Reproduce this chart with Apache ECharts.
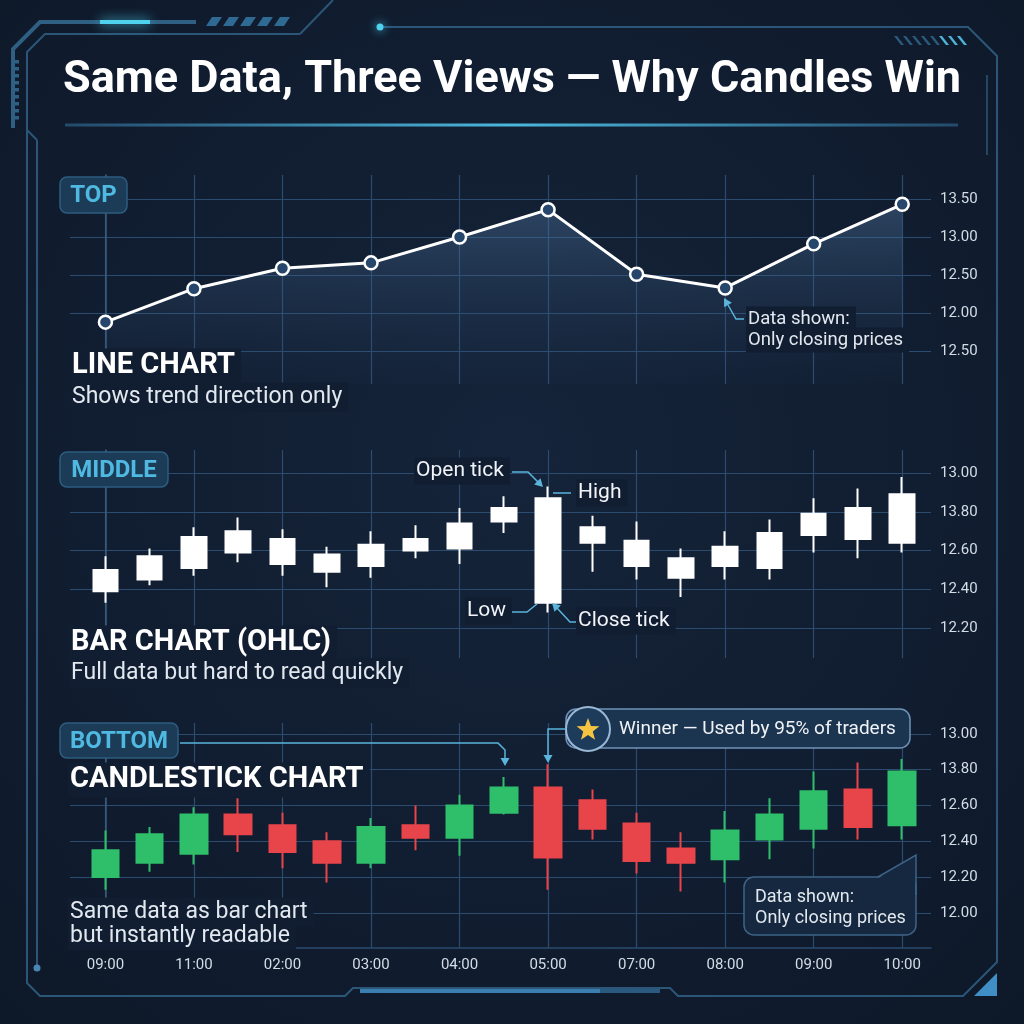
<!DOCTYPE html>
<html><head><meta charset="utf-8">
<script src="https://cdn.jsdelivr.net/npm/echarts@6/dist/echarts.min.js"></script>
<style>
html,body{margin:0;padding:0;background:#0f1a2d;}
#c{width:1024px;height:1024px;}
</style></head><body><div id="c"></div>
<script>
// ---------- DATA ----------
const timeLabels = ['09:00','11:00','02:00','03:00','04:00','05:00','07:00','08:00','09:00','10:00'];
const slotTicks = [0,2,4,6,8,10,12,14,16,18];          // candle slots that carry a time label
const lineSlots = [0,2,4,6,8,10,12,14,16,18];          // slots of the line-chart points

const topTickValues = [11.5,12.0,12.5,13.0,13.5];
const topTickLabels = ['12.50','12.00','12.50','13.00','13.50'];
const midTickValues = [12.2,12.4,12.6,12.8,13.0];
const midTickLabels = ['12.20','12.40','12.60','13.80','13.00'];
const botTickValues = [12.0,12.2,12.4,12.6,12.8,13.0];
const botTickLabels = ['12.00','12.20','12.40','12.60','13.80','13.00'];

const lineClose = [11.88,12.32,12.59,12.66,13.00,13.36,12.51,12.33,12.91,13.43];

const midOpen  = [12.39,12.45,12.51,12.70,12.66,12.58,12.52,12.66,12.61,12.75,12.87,12.72,12.65,12.56,12.52,12.51,12.68,12.82,12.64];
const midClose = [12.50,12.57,12.67,12.59,12.53,12.49,12.63,12.60,12.74,12.82,12.33,12.64,12.52,12.46,12.62,12.69,12.79,12.66,12.89];
const midLow   = [12.33,12.42,12.47,12.54,12.47,12.41,12.46,12.56,12.53,12.69,12.28,12.49,12.45,12.36,12.45,12.45,12.59,12.56,12.59];
const midHigh  = [12.57,12.61,12.72,12.77,12.71,12.62,12.70,12.73,12.82,12.88,12.93,12.78,12.75,12.61,12.70,12.76,12.87,12.92,12.98];

const cOpen  = [12.20,12.28,12.33,12.55,12.49,12.40,12.28,12.49,12.42,12.56,12.70,12.63,12.50,12.36,12.30,12.41,12.47,12.69,12.49];
const cClose = [12.35,12.44,12.55,12.44,12.34,12.28,12.48,12.42,12.60,12.70,12.31,12.47,12.29,12.28,12.46,12.55,12.68,12.48,12.79];
const cLow   = [12.13,12.23,12.27,12.34,12.25,12.17,12.25,12.35,12.32,12.55,12.13,12.41,12.22,12.12,12.17,12.30,12.36,12.41,12.41];
const cHigh  = [12.46,12.48,12.59,12.64,12.56,12.45,12.53,12.60,12.66,12.76,12.83,12.69,12.56,12.45,12.57,12.64,12.79,12.84,12.86];

// ---------- STYLE ----------
const FONT = 'Roboto, "Noto Sans", sans-serif';
const GRID = '#2b4b6f';
const AXIS = '#3a5c82';
const TXT = '#d4dce6';
const ACC = '#5ab4dc';
const MASK = '#111d31';

function labelFrom(vals, labels){
  return function(v){
    const i = vals.findIndex(x => Math.abs(x - v) < 1e-6);
    return i >= 0 ? labels[i] : '';
  };
}
function xAxisFor(gi, show){
  return {
    type:'value', gridIndex:gi, min:-0.8, max:18.65,
    axisLine:{show:show, lineStyle:{color:GRID, width:1.5}},
    axisTick:{show:false, customValues:slotTicks},
    splitLine:{show:true, lineStyle:{color:GRID, width:1.2}},
    axisLabel:{show:show, customValues:slotTicks, color:TXT, fontSize:15, fontFamily:FONT, margin:10,
      formatter: v => timeLabels[slotTicks.indexOf(Math.round(v))] || ''}
  };
}
function yAxisFor(gi, min, max, vals, labels){
  return {
    type:'value', gridIndex:gi, position:'right', min:min, max:max, scale:true,
    axisLine:{show:true, lineStyle:{color:AXIS, width:1.5}},
    axisTick:{show:false, customValues:vals},
    splitLine:{show:true, lineStyle:{color:GRID, width:1.2}},
    axisLabel:{show:true, customValues:vals, color:TXT, fontSize:15, fontFamily:FONT, margin:9,
      formatter: labelFrom(vals, labels)}
  };
}

// ---------- DECORATION HELPERS ----------
function pl(points, stroke, lw, extra){
  return Object.assign({type:'polyline', z:5, shape:{points}, style:{stroke, lineWidth:lw, fill:null, lineJoin:'miter'}}, extra||{});
}
function head(tx, ty, ang, col){ // arrow head: tip at (tx,ty), direction ang (deg) it points toward
  const a = ang*Math.PI/180, L=8, W=4.5;
  const bx = tx - L*Math.cos(a), by = ty - L*Math.sin(a);
  const px = -Math.sin(a)*W, py = Math.cos(a)*W;
  return {type:'polygon', z:120, shape:{points:[[tx,ty],[bx+px,by+py],[bx-px,by-py]]}, style:{fill:col||ACC}};
}
function txt(text, x, y, font, fill, extra){
  return Object.assign({type:'text', z:110, style:Object.assign({text, x, y, font, fill,
    textVerticalAlign:'middle', verticalAlign:'middle', textAlign:'left', align:'left'}, {})}, extra||{});
}
function maskTxt(text, x, y, font, fill){
  const t = txt(text, x, y, font, fill);
  t.style.backgroundColor = MASK; t.style.padding = [3,6,3,2];
  return t;
}
function badge(label, x, y, w, h){
  return [
    {type:'rect', z:108, shape:{x, y, width:w, height:h, r:7},
      style:{fill:'#1b3b56', stroke:'#2d5d7f', lineWidth:1.5}},
    {type:'text', z:110, style:{text:label, x:x+w/2, y:y+h/2+1, font:'bold 24px '+FONT, fill:'#4fb9e2',
      textAlign:'center', align:'center', textVerticalAlign:'middle', verticalAlign:'middle'}}
  ];
}
function star(cx, cy, R, r){
  const pts=[];
  for(let k=0;k<10;k++){
    const ang = -Math.PI/2 + k*Math.PI/5;
    const rad = k%2===0 ? R : r;
    pts.push([cx+rad*Math.cos(ang), cy+rad*Math.sin(ang)]);
  }
  return pts;
}

const FRAME = '#2c5678';
const graphics = [
  // frame
  pl([[196,22],[40,22],[13,49],[13,128]], '#2f5f83', 4),
  {type:'line', z:6, shape:{x1:100,y1:22,x2:150,y2:22}, style:{stroke:'#4fd2ee', lineWidth:4, shadowBlur:12, shadowColor:'#4fd2ee'}},
  pl([[300,34],[45,34],[27,52],[27,983],[40,996],[345,996],[353,988],[670,988],[678,996],[963,996],[997,962],[997,56],[968,27],[380,27]], FRAME, 2),
  pl([[300,34],[333,0]], FRAME, 2),
  pl([[37,140],[37,968]], FRAME, 2),
  pl([[27,130],[37,140]], FRAME, 2),
  {type:'circle', z:6, shape:{cx:37, cy:968, r:3.5}, style:{fill:'#4a86b5'}},
  {type:'circle', z:6, shape:{cx:380, cy:27, r:3.5}, style:{fill:'#4fd2ee', shadowBlur:10, shadowColor:'#4fd2ee'}},
  pl([[987,75],[987,155]], FRAME, 1.5),
  pl([[360,991],[600,991]], '#3a7fb0', 4),
  pl([[600,991],[660,991]], '#2a5a80', 4),
  {type:'polygon', z:6, shape:{points:[[974,996],[997,973],[997,996]]}, style:{fill:'#3f8fc6'}}
];
// hatches on frame
for(let k=0;k<5;k++){
  const x0 = 206 + k*17;
  graphics.push({type:'polygon', z:6, shape:{points:[[x0,26],[x0+10,26],[x0+16,17],[x0+6,17]]}, style:{fill:'#2f6a93'}});
}
for(let k=0;k<8;k++){
  const x0 = 894 + k*9;
  graphics.push({type:'polygon', z:6, shape:{points:[[x0,45],[x0+3,45],[x0-4,36],[x0-7,36]].map(p=>[p[0]+7,p[1]])}, style:{fill: k>4 ? '#4fb4d8':'#2b5a7d'}});
}
for(let k=0;k<9;k++){
  graphics.push({type:'rect', z:6, shape:{x:11, y:60+k*7, width:8, height:3.5}, style:{fill:'#2f5f83'}});
}
// title
graphics.push({type:'text', z:110, style:{text:'Same Data, Three Views — Why Candles Win', x:512, y:81,
  font:'bold 45px '+FONT, fill:'#ffffff', textAlign:'center', align:'center', textVerticalAlign:'middle', verticalAlign:'middle'}});
graphics.push({type:'line', z:6, shape:{x1:65,y1:125,x2:958,y2:125}, style:{lineWidth:3,
  stroke:{type:'linear', x:0,y:0,x2:1,y2:0, colorStops:[{offset:0,color:'#24496a'},{offset:0.5,color:'#4bb7dc'},{offset:1,color:'#24496a'}]}}});

// badges
graphics.push(...badge('TOP', 60, 177, 67, 36));
graphics.push(...badge('MIDDLE', 60, 452, 108, 35));
graphics.push(...badge('BOTTOM', 60, 723, 118, 35));

// panel texts
graphics.push(maskTxt('LINE CHART', 70, 366, 'bold 29px '+FONT, '#ffffff'));
graphics.push(maskTxt('Shows trend direction only', 70, 397, '23px '+FONT, '#e2e8ef'));
graphics.push(maskTxt('BAR CHART (OHLC)', 69, 643, 'bold 29px '+FONT, '#ffffff'));
graphics.push(maskTxt('Full data but hard to read quickly', 69, 673, '23px '+FONT, '#e2e8ef'));
graphics.push(maskTxt('CANDLESTICK CHART', 68, 780, 'bold 29px '+FONT, '#ffffff'));
graphics.push(maskTxt('Same data as bar chart', 68, 912, '23px '+FONT, '#e2e8ef'));
graphics.push(maskTxt('but instantly readable', 68, 936, '23px '+FONT, '#e2e8ef'));

// top annotation
graphics.push(maskTxt('Data shown:', 746, 319, '18.5px '+FONT, '#e2e8ef'));
graphics.push(maskTxt('Only closing prices', 746, 340, '18.5px '+FONT, '#e2e8ef'));
graphics.push(pl([[744,319],[736,319],[728,305]], ACC, 1.5, {z:120}));
graphics.push(head(724,298,-120));

// middle annotations
graphics.push(maskTxt('Open tick', 414, 471, '21px '+FONT, '#f0f3f7'));
graphics.push(pl([[512,472],[528,472],[539,483]], ACC, 1.5, {z:120}));
graphics.push(head(543,487,45));
graphics.push(maskTxt('High', 576, 493, '21px '+FONT, '#f0f3f7'));
graphics.push(pl([[553,493],[571,493]], ACC, 1.5, {z:120}));
graphics.push(maskTxt('Low', 465, 611, '21px '+FONT, '#f0f3f7'));
graphics.push(pl([[512,612],[527,612],[537,604]], ACC, 1.5, {z:120}));
graphics.push(maskTxt('Close tick', 576, 621, '21px '+FONT, '#f0f3f7'));
graphics.push(pl([[576,622],[570,622],[557,608]], ACC, 1.5, {z:120}));
graphics.push(head(552,603,-135));

// bottom annotations
graphics.push(pl([[180,743],[498,743],[505,750],[505,758]], ACC, 1.5, {z:120}));
graphics.push(head(505,766,90));
graphics.push({type:'rect', z:108, shape:{x:566, y:709, width:344, height:39, r:10},
  style:{fill:'#1b3450', stroke:'#6f93b8', lineWidth:1.5}});
graphics.push({type:'circle', z:109, shape:{cx:588, cy:729, r:22}, style:{fill:'#1d3b5a', stroke:'#9ab8d6', lineWidth:2}});
graphics.push({type:'polygon', z:110, shape:{points:star(588,730,12,5)}, style:{fill:'#f5c443'}});
graphics.push(txt('Winner — Used by 95% of traders', 619, 729, '19px '+FONT, '#f0f3f7'));
graphics.push(pl([[566,729],[548,729],[548,755]], ACC, 1.5, {z:120}));
graphics.push(head(548,763,90));
graphics.push({type:'rect', z:108, shape:{x:744, y:877, width:172, height:58, r:10},
  style:{fill:'#16283f', stroke:'#3d6488', lineWidth:1.5}});
graphics.push({type:'polygon', z:109, shape:{points:[[878,878.5],[915.2,856],[915.2,892]]}, style:{fill:'#16283f'}});
graphics.push(pl([[878,877],[916,855],[916,895]], '#3d6488', 1.5, {z:109}));
graphics.push(txt('Data shown:', 755, 897, '18px '+FONT, '#e2e8ef'));
graphics.push(txt('Only closing prices', 755, 918, '18px '+FONT, '#e2e8ef'));

// ---------- CHART ----------
const chart = echarts.init(document.getElementById('c'), null, {renderer:'canvas'});
const option = {
  animation:false,
  backgroundColor:{type:'radial', x:0.5, y:0.45, r:0.8,
    colorStops:[{offset:0,color:'#15243a'},{offset:1,color:'#0d1727'}]},
  grid:[
    {left:70, right:93, top:175, height:209},
    {left:70, right:93, top:450, height:208},
    {left:70, right:93, top:723, height:225}
  ],
  xAxis:[xAxisFor(0,false), xAxisFor(1,false), xAxisFor(2,true)],
  yAxis:[
    yAxisFor(0, 11.066, 13.816, topTickValues, topTickLabels),
    yAxisFor(1, 12.045, 13.119, midTickValues, midTickLabels),
    yAxisFor(2, 11.804, 13.061, botTickValues, botTickLabels)
  ],
  series:[
    {type:'line', xAxisIndex:0, yAxisIndex:0,
      data: lineSlots.map((s,i)=>[s, lineClose[i]]),
      symbol:'circle', symbolSize:13, z:3,
      lineStyle:{color:'#ffffff', width:3},
      itemStyle:{color:'#26476b', borderColor:'#ffffff', borderWidth:2.5},
      areaStyle:{origin:'start', color:{type:'linear', x:0,y:0,x2:0,y2:1,
        colorStops:[{offset:0,color:'rgba(88,130,175,0.55)'},{offset:1,color:'rgba(40,70,110,0.05)'}]}}
    },
    {type:'candlestick', xAxisIndex:1, yAxisIndex:1, barWidth:25,
      encode:{x:0, y:[1,2,3,4]},
      data: midOpen.map((o,i)=>[i, o, midClose[i], midLow[i], midHigh[i]]),
      itemStyle:{color:'#ffffff', color0:'#ffffff', borderColor:'#ffffff', borderColor0:'#ffffff', borderWidth:2}
    },
    {type:'candlestick', xAxisIndex:2, yAxisIndex:2, barWidth:27,
      encode:{x:0, y:[1,2,3,4]},
      data: cOpen.map((o,i)=>[i, o, cClose[i], cLow[i], cHigh[i]]),
      itemStyle:{color:'#2fbf6b', color0:'#e8454b', borderColor:'#2fbf6b', borderColor0:'#e8454b', borderWidth:2}
    }
  ],
  graphic:{elements:graphics}
};
chart.setOption(option);
</script></body></html>
